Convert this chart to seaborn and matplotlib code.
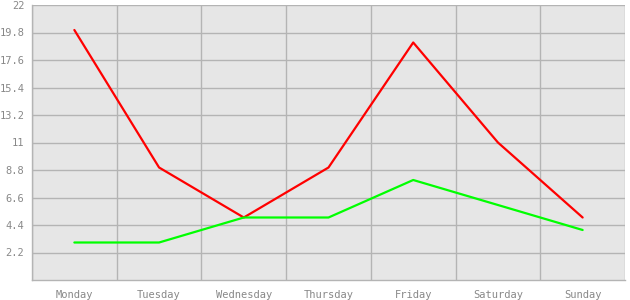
import matplotlib
matplotlib.use("Agg")
import matplotlib.pyplot as plt
import seaborn as sns
import pandas as pd
import numpy as np

days = ["Monday", "Tuesday", "Wednesday", "Thursday", "Friday", "Saturday", "Sunday"]
red_values = [20, 9, 5, 9, 19, 11, 5]
green_values = [3, 3, 5, 5, 8, 6, 4]
y_ticks = [2.2, 4.4, 6.6, 8.8, 11, 13.2, 15.4, 17.6, 19.8, 22]
y_tick_labels = ["2.2", "4.4", "6.6", "8.8", "11", "13.2", "15.4", "17.6", "19.8", "22"]

sns.set_theme(style="white")
plt.rcParams['font.family'] = ['DejaVu Sans Mono', 'DejaVu Sans']

df = pd.DataFrame({
    "day": days * 2,
    "value": red_values + green_values,
    "series": ["red"] * len(days) + ["green"] * len(days),
})

fig = plt.figure(figsize=(6.3, 3.0), dpi=100)
ax = fig.add_axes([32 / 630, 20 / 300, 593 / 630, 275 / 300])
ax.set_facecolor("#e6e6e6")

sns.lineplot(data=df, x="day", y="value", hue="series",
             palette={"red": "#ff0000", "green": "#00ff00"},
             linewidth=1.6, legend=False, ax=ax, sort=False, zorder=3)

n = len(days)
ax.set_xlim(-0.5, n - 0.5)
ax.set_ylim(0, 22)
ax.set_xticks(range(n))
ax.set_xticklabels(days)
ax.set_xticks([i - 0.5 for i in range(n + 1)], minor=True)
ax.set_yticks(y_ticks)
ax.set_yticklabels(y_tick_labels)
ax.grid(False)
ax.grid(True, which="minor", axis="x", color="#b4b4b4", linewidth=1.0, zorder=1)
ax.grid(True, which="major", axis="y", color="#b4b4b4", linewidth=1.0, zorder=1)
ax.set_axisbelow(True)
ax.set_xlabel("")
ax.set_ylabel("")

for side in ["top", "right"]:
    ax.spines[side].set_visible(False)
for side in ["left", "bottom"]:
    ax.spines[side].set_color("#b4b4b4")
    ax.spines[side].set_linewidth(1.0)

ax.tick_params(axis="both", which="major", direction="out", length=4, width=0.8,
               color="#999999", labelcolor="#888888", labelsize=7.5)
ax.tick_params(axis="y", which="major", pad=1.5)
ax.tick_params(axis="x", which="major", pad=3)
ax.tick_params(axis="x", which="minor", length=0)

fig.savefig("out.png", dpi=100, facecolor="white")
